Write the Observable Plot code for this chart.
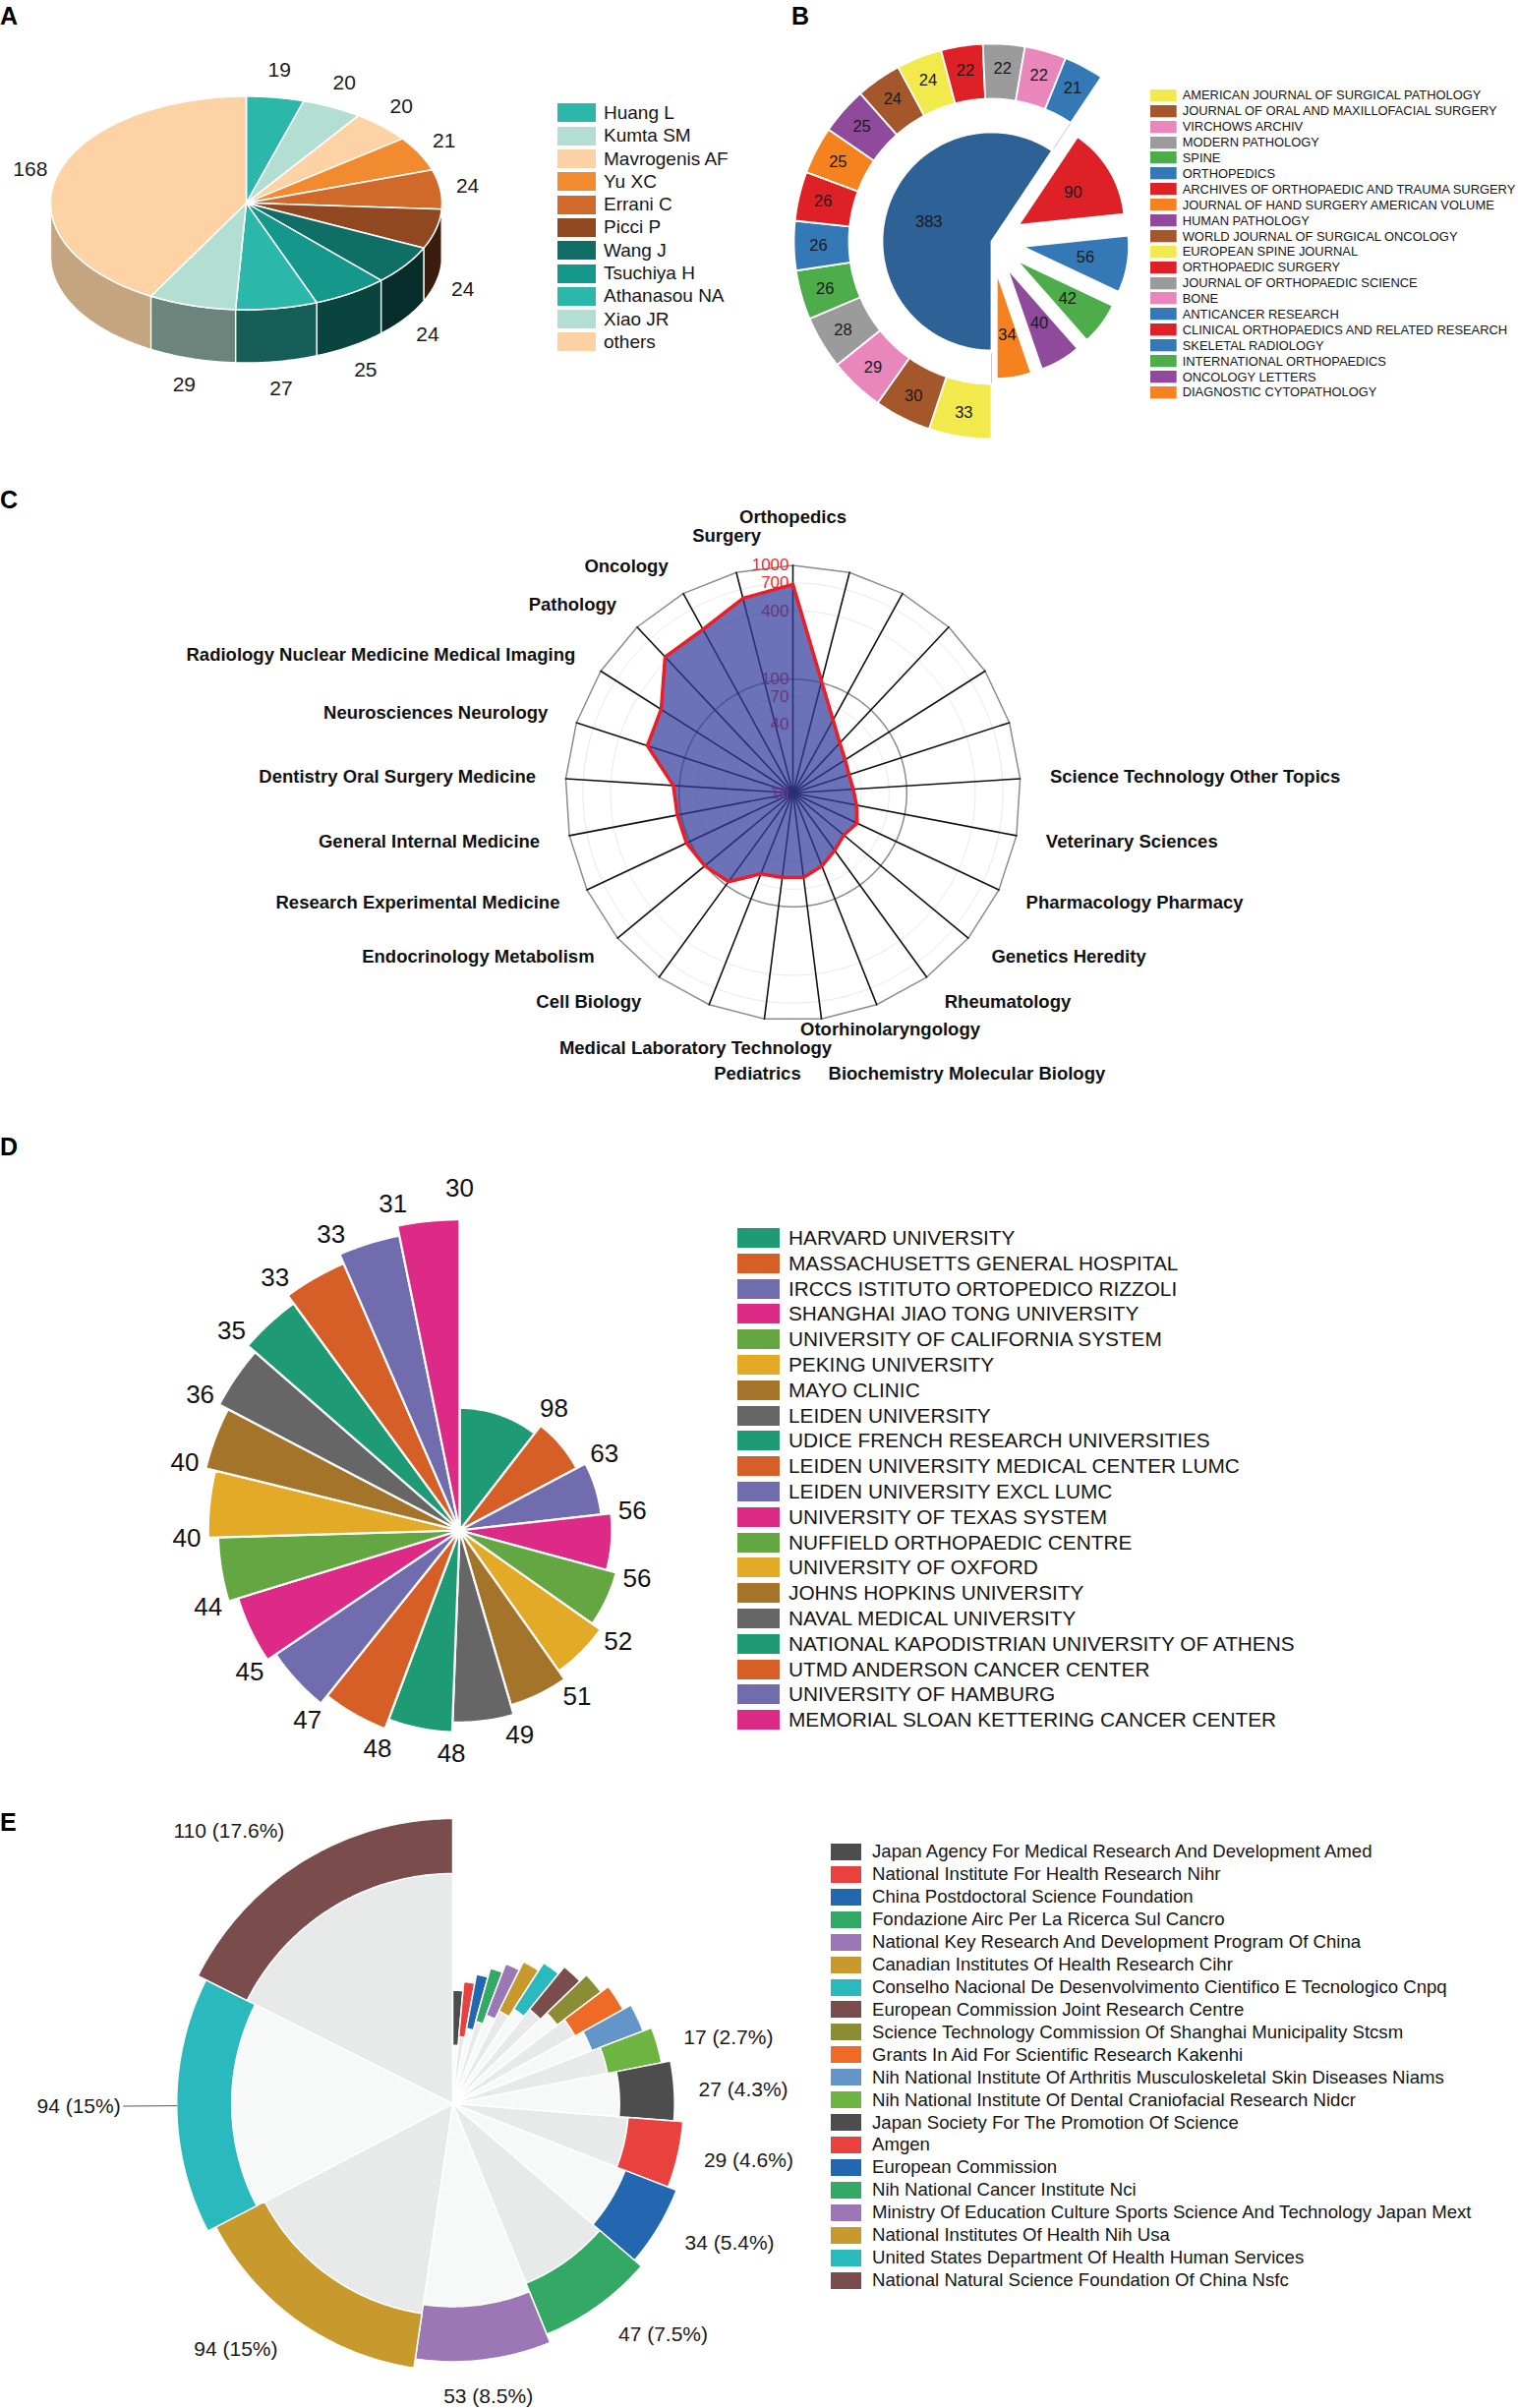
<!DOCTYPE html>
<html><head><meta charset="utf-8">
<script src="https://cdn.jsdelivr.net/npm/d3@7"></script>
<script src="https://cdn.jsdelivr.net/npm/@observablehq/plot@0.6"></script>
<style>
html,body{margin:0;padding:0;background:#fff;}
#page{position:relative;width:1544px;height:2449px;overflow:hidden;background:#fff;font-family:"Liberation Sans",Arial,Helvetica,sans-serif;color:#111;}
.panel{position:absolute;}
.tag{position:absolute;font:bold 25px "Liberation Sans",Arial,sans-serif;line-height:1;color:#000;}
</style></head>
<body><div id="page"></div>
<script>
// ===================== DATA =====================
// Panel A – authors
const authorNames = ["Huang L","Kumta SM","Mavrogenis AF","Yu XC","Errani C","Picci P","Wang J","Tsuchiya H","Athanasou NA","Xiao JR","others"];
const authorCounts = [19,20,20,21,24,24,24,25,27,29,168];
const authorColors = ["#2bb7a9","#b3dfd2","#fdd3a5","#f28a30","#d0692a","#914720","#0f6e66","#15988b","#2bb7a9","#b3dfd2","#fdd3a5"];

// Panel B – journals (first 15 form the aggregated slice / outer ring, last 5 are exploded)
const journalNames = ["AMERICAN JOURNAL OF SURGICAL PATHOLOGY","JOURNAL OF ORAL AND MAXILLOFACIAL SURGERY","VIRCHOWS ARCHIV","MODERN PATHOLOGY","SPINE","ORTHOPEDICS","ARCHIVES OF ORTHOPAEDIC AND TRAUMA SURGERY","JOURNAL OF HAND SURGERY AMERICAN VOLUME","HUMAN PATHOLOGY","WORLD JOURNAL OF SURGICAL ONCOLOGY","EUROPEAN SPINE JOURNAL","ORTHOPAEDIC SURGERY","JOURNAL OF ORTHOPAEDIC SCIENCE","BONE","ANTICANCER RESEARCH","CLINICAL ORTHOPAEDICS AND RELATED RESEARCH","SKELETAL RADIOLOGY","INTERNATIONAL ORTHOPAEDICS","ONCOLOGY LETTERS","DIAGNOSTIC CYTOPATHOLOGY"];
const journalCounts = [33,30,29,28,26,26,26,25,25,24,24,22,22,22,21,90,56,42,40,34];
const journalColors = ["#f2ea4c","#a4572a","#e986bc","#9b9b9b","#4cad4a","#3479b6","#de2027","#f5821f","#904a9c","#a4572a","#f2ea4c","#de2027","#9b9b9b","#e986bc","#3479b6","#de2027","#3479b6","#4cad4a","#904a9c","#f5821f"];
const journalRingCount = 15;
const journalAggColor = "#2e6196";

// Panel C – research fields (clockwise from top; 5 spokes carry no label)
const fieldNames = ["Orthopedics","","","","","","Science Technology Other Topics","Veterinary Sciences","Pharmacology Pharmacy","Genetics Heredity","Rheumatology","Otorhinolaryngology","Biochemistry Molecular Biology","Pediatrics","Medical Laboratory Technology","Cell Biology","Endocrinology Metabolism","Research Experimental Medicine","General Internal Medicine","Dentistry Oral Surgery Medicine","Neurosciences Neurology","Radiology Nuclear Medicine Medical Imaging","Pathology","Oncology","Surgery"];
const fieldCounts = [680,103,54,40,35,33,34,37,42,38,42,49,56,56,58,92,101,108,108,113,221,235,437,437,583];
const radarTicks = [10,40,70,100,400,700,1000];

// Panel D – institutions
const instNames = ["HARVARD UNIVERSITY","MASSACHUSETTS GENERAL HOSPITAL","IRCCS ISTITUTO ORTOPEDICO RIZZOLI","SHANGHAI JIAO TONG UNIVERSITY","UNIVERSITY OF CALIFORNIA SYSTEM","PEKING UNIVERSITY","MAYO CLINIC","LEIDEN UNIVERSITY","UDICE FRENCH RESEARCH UNIVERSITIES","LEIDEN UNIVERSITY MEDICAL CENTER LUMC","LEIDEN UNIVERSITY EXCL LUMC","UNIVERSITY OF TEXAS SYSTEM","NUFFIELD ORTHOPAEDIC CENTRE","UNIVERSITY OF OXFORD","JOHNS HOPKINS UNIVERSITY","NAVAL MEDICAL UNIVERSITY","NATIONAL KAPODISTRIAN UNIVERSITY OF ATHENS","UTMD ANDERSON CANCER CENTER","UNIVERSITY OF HAMBURG","MEMORIAL SLOAN KETTERING CANCER CENTER"];
const instCounts = [98,63,56,56,52,51,49,48,48,47,45,44,40,40,36,35,33,33,31,30];
const instPalette = ["#1e9b75","#d55f26","#716cad","#dd2a86","#64a642","#e2aa27","#a3742a","#666666"];
const instColors = instNames.map((d, i) => instPalette[i % instPalette.length]);

// Panel E – funding agencies (legend order = clockwise from top)
const funderNames = ["Japan Agency For Medical Research And Development Amed","National Institute For Health Research Nihr","China Postdoctoral Science Foundation","Fondazione Airc Per La Ricerca Sul Cancro","National Key Research And Development Program Of China","Canadian Institutes Of Health Research Cihr","Conselho Nacional De Desenvolvimento Cientifico E Tecnologico Cnpq","European Commission Joint Research Centre","Science Technology Commission Of Shanghai Municipality Stcsm","Grants In Aid For Scientific Research Kakenhi","Nih National Institute Of Arthritis Musculoskeletal Skin Diseases Niams","Nih National Institute Of Dental Craniofacial Research Nidcr","Japan Society For The Promotion Of Science","Amgen","European Commission","Nih National Cancer Institute Nci","Ministry Of Education Culture Sports Science And Technology Japan Mext","National Institutes Of Health Nih Usa","United States Department Of Health Human Services","National Natural Science Foundation Of China Nsfc"];
const funderCounts = [9,9,9,9,10,11,11,12,12,14,14,17,27,29,34,47,53,94,94,110];
const funderColors = ["#4d4d4d","#e8413e","#2467b1","#34a865","#9b77b5","#c8992c","#2ab9bc","#7a4c4c","#8b8d35","#ef6a24","#6495c8","#6db443","#4d4d4d","#e8413e","#2467b1","#34a865","#9b77b5","#c8992c","#2ab9bc","#7a4c4c"];

// ===================== HELPERS =====================
const FONT = '"Liberation Sans", Arial, Helvetica, sans-serif';
const DEG = Math.PI / 180;
const page = document.getElementById("page");
let css = "";
const pt = (r, a) => [r * Math.sin(a * DEG), -r * Math.cos(a * DEG)];
function arc(r, a0, a1) {
  const m = Math.max(2, Math.ceil(Math.abs(a1 - a0) / 0.75) + 1);
  return d3.range(m).map(k => pt(r, a0 + (a1 - a0) * k / (m - 1)));
}
function sector(r0, r1, a0, a1, off = [0, 0]) {
  const p = arc(r1, a0, a1).concat(r0 > 0 ? arc(r0, a1, a0) : [[0, 0]]);
  p.push(p[0]);
  return p.map(([x, y]) => [x + off[0], y + off[1]]);
}
const rows = shapes => shapes.flatMap(s => s.pts.map(([x, y]) => ({id: s.id, fill: s.fill, x, y})));
function frame(W, H, cx, cy) {
  return {
    width: W, height: H, margin: 0,
    x: {domain: [-cx, W - cx], range: [0, W], axis: null},
    y: {domain: [-cy, H - cy], range: [0, H], axis: null},
    style: {background: "transparent", overflow: "visible", fontFamily: FONT}
  };
}
function place(node, left, top, width) {
  const d = document.createElement("div");
  d.className = "panel";
  d.style.left = left + "px"; d.style.top = top + "px";
  if (width) d.style.width = width + "px";
  d.appendChild(node);
  page.appendChild(d);
}
function tag(letter, left, top) {
  const d = document.createElement("div");
  d.className = "tag"; d.textContent = letter;
  d.style.left = left + "px"; d.style.top = top + "px";
  page.appendChild(d);
}
function legend(names, colors, o) {
  const node = Plot.legend({
    color: {type: "ordinal", domain: names, range: colors},
    columns: 1, swatchWidth: o.sw, swatchHeight: o.sh, className: o.cls, width: o.width
  });
  css += `
  div.${o.cls}-swatches{font-family:${FONT} !important;font-size:${o.font}px !important;margin:0 !important;color:#151515;column-gap:0;}
  div.${o.cls}-swatches div.${o.cls}-swatch{height:${o.row}px;padding-bottom:0 !important;margin:0 !important;}
  div.${o.cls}-swatches div.${o.cls}-swatch > svg{margin-right:${o.gap}px !important;}
  div.${o.cls}-swatches div.${o.cls}-swatch-label{overflow:visible !important;text-overflow:clip !important;}`;
  place(node, o.left, o.top - o.row / 2, o.width);
}

// ===================== PANEL A : 3D pie =====================
(() => {
  const W = 560, H = 440, left = 0, top = 40, cx = 250, cy = 206 - 40;
  const rx = 199, ry = 108.5, depth = 54;
  const total = d3.sum(authorCounts);
  const cum = d3.cumsum(authorCounts);
  const sl = authorCounts.map((v, i) => ({i, v, a0: (cum[i] - v) / total * 360, a1: cum[i] / total * 360}));
  const ell = (a, dy = 0) => [rx * Math.sin(a * DEG), -ry * Math.cos(a * DEG) + dy];
  const ellArc = (a0, a1, dy = 0) => {
    const m = Math.max(2, Math.ceil(Math.abs(a1 - a0) / 0.75) + 1);
    return d3.range(m).map(k => ell(a0 + (a1 - a0) * k / (m - 1), dy));
  };
  const sides = [], tops = [];
  for (const s of sl) {
    const b0 = Math.max(s.a0, 90), b1 = Math.min(s.a1, 270);
    if (b1 > b0) {
      const mid = (b0 + b1) / 2;
      const k = Math.max(0.7, Math.min(2.5, 0.7 + (240 - mid) * 0.017));
      const p = ellArc(b0, b1).concat(ellArc(b1, b0, depth)); p.push(p[0]);
      sides.push({id: "s" + s.i, fill: d3.color(authorColors[s.i]).darker(k).formatHex(), pts: p});
    }
    const p = ellArc(s.a0, s.a1).concat([[0, 0]]); p.push(p[0]);
    tops.push({id: "t" + s.i, fill: authorColors[s.i], pts: p});
  }
  const labels = sl.map(s => {
    const m = (s.a0 + s.a1) / 2 * DEG, c = Math.cos(m);
    return {x: (rx + 28) * Math.sin(m), y: -(ry + 28) * c + (c < 0 ? depth : 0), t: String(s.v)};
  });
  const plot = Plot.plot({...frame(W, H, cx, cy), marks: [
    Plot.line(rows(sides), {x: "x", y: "y", z: "id", fill: "fill", stroke: "white", strokeWidth: 1.3}),
    Plot.line(rows(tops), {x: "x", y: "y", z: "id", fill: "fill", stroke: "white", strokeWidth: 1.5}),
    Plot.text(labels, {x: "x", y: "y", text: "t", fontSize: 21, fill: "#1a1a1a", fontFamily: FONT})
  ]});
  place(plot, left, top, W);
  legend(authorNames, authorColors, {cls: "lga", left: 567, top: 115, row: 23.3, sw: 39, sh: 19, font: 19, gap: 8, width: 330});
})();

// ===================== PANEL B : pie of pie =====================
(() => {
  const W = 380, H = 440, left = 790, top = 20, cx = 1008 - 790, cy = 245 - 20;
  const total = d3.sum(journalCounts);
  const aggr = d3.sum(journalCounts.slice(0, journalRingCount));
  const k = 360 / total;
  const a0 = 180, a1 = 180 + aggr * k;
  const rIn = 111, ring0 = 145, ring1 = 201, rEx = 108, explode = 32;
  const shapes = [{id: "agg", fill: journalAggColor, pts: sector(0, rIn, a0, a1)}];
  const lab = ([x, y], t) => ({x, y, t: String(t)});
  const labels = [lab(pt(0.6 * rIn, (a0 + a1) / 2), aggr)];
  let acc = a0;
  journalCounts.forEach((v, i) => {
    if (i >= journalRingCount) return;
    const b0 = acc, b1 = acc + v * k; acc = b1;
    shapes.push({id: "r" + i, fill: journalColors[i], pts: sector(ring0, ring1, b0, b1)});
    labels.push(lab(pt((ring0 + ring1) / 2 + 3, (b0 + b1) / 2), v));
  });
  acc = a1;
  journalCounts.forEach((v, i) => {
    if (i < journalRingCount) return;
    const b0 = acc, b1 = acc + v * k; acc = b1;
    const mid = (b0 + b1) / 2, off = pt(explode, mid);
    shapes.push({id: "e" + i, fill: journalColors[i], pts: sector(0, rEx, b0, b1, off)});
    const p = pt(0.6 * rEx, mid);
    labels.push(lab([p[0] + off[0], p[1] + off[1]], v));
  });
  const conns = [a0, a1].map(a => ({id: "c" + a, pts: [pt(rIn + 3, a), pt(ring0, a)]}));
  const plot = Plot.plot({...frame(W, H, cx, cy), marks: [
    Plot.line(rows(conns), {x: "x", y: "y", z: "id", stroke: "#c9c9c9", strokeWidth: 1}),
    Plot.line(rows(shapes), {x: "x", y: "y", z: "id", fill: "fill", stroke: "white", strokeWidth: 1.8}),
    Plot.text(labels, {x: "x", y: "y", text: "t", fontSize: 16.5, fill: "#1a1a1a", fontFamily: FONT})
  ]});
  place(plot, left, top, W);
  legend(journalNames, journalColors, {cls: "lgb", left: 1170, top: 97, row: 15.9, sw: 26.7, sh: 12.3, font: 12.9, gap: 6, width: 370});
})();

// ===================== PANEL C : radar (log radial scale) =====================
(() => {
  const W = 1250, H = 650, left = 150, top = 480, cx = 806 - 150, cy = 806 - 480;
  const R = 231.5, n = fieldNames.length;
  const rs = d3.scaleLog().domain([10, 1000]).range([0, R]);
  const ang = i => i * 360 / n;
  const outer = {id: "outer", pts: d3.range(n + 1).map(i => pt(R, ang(i % n)))};
  const c100 = {id: "c100", pts: arc(rs(100), 0, 360)};
  const faint = [40, 70, 400, 700].map(v => ({id: "f" + v, pts: arc(rs(v), 0, 360)}));
  const spokes = d3.range(n).map(i => ({id: "sp" + i, pts: [[0, 0], pt(R, ang(i))]}));
  const poly = {id: "poly", fill: "#323c9b", pts: d3.range(n + 1).map(i => pt(rs(fieldCounts[i % n]), ang(i % n)))};
  // label placement rule
  const fs = 18.5, labs = [];
  let prev = null;
  for (let i = n - 1; i >= 0; --i) {
    const name = fieldNames[i];
    if (!name) continue;
    const a = ang(i) * DEG, s = Math.sin(a), c = Math.cos(a);
    const w = name.length * fs * 0.53;
    const R0 = 262 + 17 * Math.max(0, c) ** 20 + 30 * Math.max(0, -c) ** 20;
    const make = anchor => {
      const x = R0 * s, y = -R0 * c;
      const x0 = anchor === "start" ? x : anchor === "end" ? x - w : x - w / 2;
      return {name, x, y, anchor, x0, x1: x0 + w};
    };
    let L = make(Math.abs(s) < 0.42 ? "middle" : s > 0 ? "start" : "end");
    if (prev && L.x0 < prev.x1 && prev.x0 < L.x1 && Math.abs(L.y - prev.y) < fs * 1.05) L = make(s > 0 ? "start" : "end");
    labs.push(L); prev = L;
  }
  // separate any remaining overlapping pairs vertically
  for (let a = 0; a < labs.length; ++a) for (let b = a + 1; b < labs.length; ++b) {
    const A = labs[a], B = labs[b];
    if (A.x0 < B.x1 && B.x0 < A.x1 && Math.abs(A.y - B.y) < fs) {
      const need = (fs - Math.abs(A.y - B.y)) / 2;
      const [hi, lo] = (A.x0 + A.x1) > (B.x0 + B.x1) ? [A, B] : [B, A];
      hi.y -= need; lo.y += need;
    }
  }
  const txt = anchor => Plot.text(labs.filter(d => d.anchor === anchor), {x: "x", y: "y", text: "name", textAnchor: anchor, fontSize: fs, fontWeight: "bold", fill: "#111", fontFamily: FONT});
  const plot = Plot.plot({...frame(W, H, cx, cy), marks: [
    Plot.line(rows(faint), {x: "x", y: "y", z: "id", stroke: "#e8e8e8", strokeWidth: 1}),
    Plot.line(rows([outer]), {x: "x", y: "y", z: "id", stroke: "#8c8c8c", strokeWidth: 1.5, strokeLinejoin: "miter"}),
    Plot.line(rows([c100]), {x: "x", y: "y", z: "id", stroke: "#8c8c8c", strokeWidth: 1.5}),
    Plot.line(rows(spokes), {x: "x", y: "y", z: "id", stroke: "#111", strokeWidth: 1.6}),
    Plot.text(radarTicks, {x: () => 0, y: v => -rs(v), dx: -4, text: v => String(v), textAnchor: "end", fill: "#ee2a30", fontSize: 17, fontFamily: FONT}),
    Plot.line(rows([poly]), {x: "x", y: "y", z: "id", fill: "fill", fillOpacity: 0.72, stroke: "#ee1d25", strokeWidth: 3.5, strokeLinejoin: "miter"}),
    txt("start"), txt("end"), txt("middle")
  ]});
  place(plot, left, top, W);
})();

// ===================== PANEL D : spiral rose =====================
(() => {
  const W = 640, H = 640, left = 100, top = 1180, cx = 467 - 100, cy = 1556 - 1180;
  const n = instCounts.length, total = d3.sum(instCounts);
  const rad = d3.scaleLinear().domain([0, n - 1]).range([124.7, 316.3]);
  const cum = d3.cumsum(instCounts);
  const shapes = [], labels = [];
  instCounts.forEach((v, i) => {
    const a0 = (cum[i] - v) / total * 360, a1 = cum[i] / total * 360;
    shapes.push({id: "d" + i, fill: instColors[i], pts: sector(0, rad(i), a0, a1)});
    const [x, y] = pt(rad(i) + 32, a1);
    labels.push({x, y, t: String(v)});
  });
  const plot = Plot.plot({...frame(W, H, cx, cy), marks: [
    Plot.line(rows(shapes), {x: "x", y: "y", z: "id", fill: "fill", stroke: "white", strokeWidth: 2.2}),
    Plot.text(labels, {x: "x", y: "y", text: "t", fontSize: 26, fill: "#111", fontFamily: FONT})
  ]});
  place(plot, left, top, W);
  legend(instNames, instColors, {cls: "lgd", left: 750, top: 1259, row: 25.8, sw: 43, sh: 20, font: 20.8, gap: 9, width: 780});
})();

// ===================== PANEL E : pie with outer bands =====================
(() => {
  const W = 840, H = 619, left = 0, top = 1830, cx = 460, cy = 2139 - 1830;
  const n = funderCounts.length, total = d3.sum(funderCounts);
  const rOut = d3.scaleLinear().domain([0, n - 1]).range([115.3, 290]);
  const band = 56;
  const cum = d3.cumsum(funderCounts);
  const sectors = [], bands = [], labels = [], leaders = [];
  funderCounts.forEach((v, i) => {
    const a0 = (cum[i] - v) / total * 360, a1 = cum[i] / total * 360, mid = (a0 + a1) / 2;
    const ro = rOut(i), ri = ro - band;
    sectors.push({id: "g" + i, fill: i % 2 ? "#e8e9e9" : "#f7f8f8", pts: sector(0, ri, a0, a1)});
    bands.push({id: "b" + i, fill: funderColors[i], pts: sector(ri, ro, a0, a1)});
    if (v / total >= 0.025) {
      const t = `${v} (${+(v / total * 100).toFixed(1)}%)`;
      const s = Math.sin(mid * DEG), c = Math.cos(mid * DEG);
      if (s < -0.97) {
        leaders.push({id: "l" + i, pts: [pt(ro, mid), pt(ro + 54, mid)]});
        const [x, y] = pt(ro + 57, mid);
        labels.push({x, y, t, anchor: "end"});
      } else {
        const [x, y] = pt(ro + 24 + 14 * Math.abs(c), mid);
        labels.push({x, y, t, anchor: s > 0.2 ? "start" : s < -0.2 ? "end" : "middle"});
      }
    }
  });
  const txt = anchor => Plot.text(labels.filter(d => d.anchor === anchor), {x: "x", y: "y", text: "t", textAnchor: anchor, fontSize: 21, fill: "#1a1a1a", fontFamily: FONT});
  const plot = Plot.plot({...frame(W, H, cx, cy), marks: [
    Plot.line(rows(sectors), {x: "x", y: "y", z: "id", fill: "fill", stroke: "white", strokeWidth: 1.5}),
    Plot.line(rows(bands), {x: "x", y: "y", z: "id", fill: "fill", stroke: "white", strokeWidth: 1.5}),
    Plot.line(rows(leaders), {x: "x", y: "y", z: "id", stroke: "#555", strokeWidth: 1}),
    txt("middle"), txt("end"), txt("start")
  ]});
  place(plot, left, top, W);
  legend(funderNames, funderColors, {cls: "lge", left: 845, top: 1883.5, row: 22.93, sw: 31, sh: 17, font: 18.6, gap: 11, width: 690});
})();

// panel letters
tag("A", 0, 3.5); tag("B", 805, 3.5); tag("C", 0, 496); tag("D", 0, 1154); tag("E", 0, 1841);

const st = document.createElement("style");
st.textContent = css;
document.head.appendChild(st);
</script>
</body></html>
